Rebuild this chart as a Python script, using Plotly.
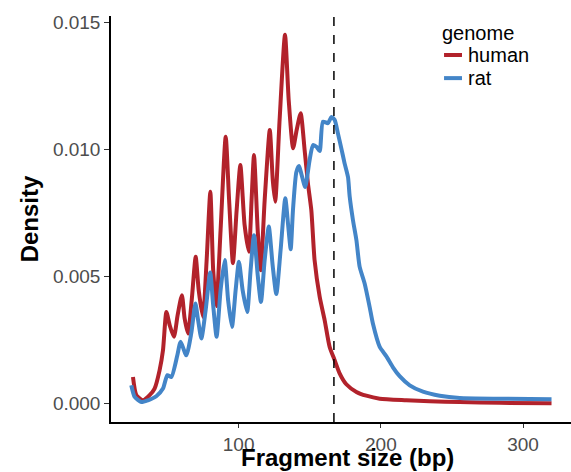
import plotly.graph_objects as go

# Fragment size (bp) and density
human_x = [25.7, 28.1, 32.7, 37.4, 40.9, 44.4, 46.8, 49.2, 51.5, 54.5, 57.1, 60.1, 62.0, 64.4,
           67.0, 69.8, 71.9, 74.9, 77.5, 80.1, 82.1, 84.3, 87.3, 90.9, 93.3, 96.0, 98.6, 101.2,
           104.2, 107.2, 109.1, 110.8, 113.4, 115.5, 118.3, 121.9, 124.0, 125.7, 128.8, 132.6,
           135.2, 138.3, 140.8, 143.6, 146.4, 148.7, 151.1, 153.4, 157.0, 160.5, 164.0, 167.5,
           171.0, 175.7, 182.8, 189.8, 199.2, 217.9, 234.3, 255.4, 283.5, 320.0]
human_y = [0.00105, 0.00033, 0.00013, 0.00033, 0.00059, 0.00131, 0.00210, 0.00361, 0.00309,
           0.00263, 0.00348, 0.00427, 0.00336, 0.00276, 0.00407, 0.00578, 0.00447, 0.00341,
           0.00565, 0.00834, 0.00525, 0.00384, 0.00683, 0.01051, 0.00801, 0.00553, 0.00762,
           0.00939, 0.00703, 0.00598, 0.00801, 0.00979, 0.00683, 0.00525, 0.00801, 0.01077,
           0.00880, 0.00795, 0.01117, 0.01452, 0.01195, 0.01005, 0.01077, 0.01143, 0.00998,
           0.00868, 0.00762, 0.00565, 0.00420, 0.00328, 0.00223, 0.00171, 0.00119, 0.00076,
           0.00046, 0.00031, 0.00019, 0.00013, 0.00009, 0.00006, 0.00003, 0.00001]

rat_x = [24.5, 26.9, 31.6, 36.2, 42.1, 46.8, 49.9, 52.7, 56.9, 59.2, 63.2, 66.7, 69.6, 71.5,
         73.8, 76.8, 80.0, 82.1, 84.5, 87.3, 90.2, 92.6, 95.3, 97.9, 100.2, 102.8, 106.0, 108.4,
         110.8, 113.4, 115.7, 118.3, 121.2, 123.9, 126.5, 129.5, 132.8, 134.8, 136.6, 138.2,
         140.6, 142.5, 144.3, 146.8, 149.9, 152.3, 154.9, 157.0, 159.3, 162.8, 165.2, 167.5,
         169.8, 172.2, 174.5, 176.9, 178.1, 180.4, 182.8, 185.1, 188.6, 192.1, 194.4, 199.2,
         203.9, 208.5, 213.2, 220.3, 229.6, 241.4, 255.4, 283.5, 320.0]
rat_y = [0.00072, 0.00026, 0.00006, 0.00013, 0.00029, 0.00059, 0.00112, 0.00105, 0.00190,
         0.00243, 0.00190, 0.00277, 0.00394, 0.00328, 0.00256, 0.00368, 0.00516, 0.00387,
         0.00263, 0.00447, 0.00565, 0.00407, 0.00302, 0.00447, 0.00558, 0.00447, 0.00361,
         0.00525, 0.00663, 0.00506, 0.00400, 0.00565, 0.00697, 0.00545, 0.00431, 0.00604,
         0.00808, 0.00703, 0.00608, 0.00762, 0.00912, 0.00935, 0.00900, 0.00853, 0.00959,
         0.01018, 0.01010, 0.00994, 0.01110, 0.01104, 0.01128, 0.01117, 0.01064, 0.01005,
         0.00946, 0.00892, 0.00814, 0.00722, 0.00644, 0.00538, 0.00473, 0.00381, 0.00315,
         0.00223, 0.00186, 0.00143, 0.00108, 0.00072, 0.00047, 0.00031, 0.00022, 0.00019,
         0.00017]

cutoff = 167
x_ticks = [100, 200, 300]
y_ticks = [0.000, 0.005, 0.010, 0.015]
y_tick_text = ["0.000", "0.005", "0.010", "0.015"]

RED = "#B2222B"
BLUE = "#4385C8"
FONT = "Liberation Sans, Arial, Helvetica, sans-serif"

fig = go.Figure()
fig.add_trace(go.Scatter(x=human_x, y=human_y, mode="lines", name="human",
                         line=dict(color=RED, width=4, shape="spline", smoothing=0.6),
                         showlegend=False))
fig.add_trace(go.Scatter(x=rat_x, y=rat_y, mode="lines", name="rat",
                         line=dict(color=BLUE, width=4, shape="spline", smoothing=0.6),
                         showlegend=False))

fig.add_shape(type="line", xref="x", yref="paper", x0=cutoff, x1=cutoff, y0=0, y1=1,
              line=dict(color="black", width=1.5, dash="dash"))

# manual legend (ggplot style)
fig.add_annotation(xref="paper", yref="paper", x=0.716, y=0.958, xanchor="left", yanchor="middle",
                   text="genome", showarrow=False, font=dict(family=FONT, size=20, color="black"))
for i, (name, col) in enumerate([("human", RED), ("rat", BLUE)]):
    yp = 0.904 - i * 0.057
    fig.add_shape(type="line", xref="paper", yref="paper", x0=0.724, x1=0.763, y0=yp, y1=yp,
                  line=dict(color=col, width=4))
    fig.add_annotation(xref="paper", yref="paper", x=0.771, y=yp, xanchor="left", yanchor="middle",
                       text=name, showarrow=False, font=dict(family=FONT, size=20, color="black"))

# x-axis title placed like ggplot's (centred under the panel)
fig.add_annotation(xref="paper", yref="paper", x=0.514, y=-0.088, xanchor="center", yanchor="middle",
                   text="<b>Fragment size (bp)</b>", showarrow=False,
                   font=dict(family=FONT, size=24, color="black"))

fig.update_layout(
    width=571, height=472,
    margin=dict(l=111, r=0, t=16, b=50),
    paper_bgcolor="white", plot_bgcolor="white",
    font=dict(family=FONT),
)
fig.update_xaxes(range=[10.25, 333.7], tickvals=x_ticks, ticks="outside", ticklen=4,
                 tickwidth=1, tickcolor="#333333", showgrid=False, zeroline=False,
                 showline=True, linecolor="black", linewidth=1.5, automargin=False,
                 tickfont=dict(size=19, color="#4D4D4D", family=FONT))
fig.update_yaxes(range=[-0.000725, 0.01526], tickvals=y_ticks, ticktext=y_tick_text,
                 ticks="outside", ticklen=5, tickwidth=1, tickcolor="#333333", automargin=False,
                 showgrid=False, zeroline=False, showline=True, linecolor="black", linewidth=1.5,
                 tickfont=dict(size=19, color="#4D4D4D", family=FONT),
                 title=dict(text="<b>Density</b>", standoff=8,
                            font=dict(size=24, color="black", family=FONT)))

fig.write_html("out.html")
